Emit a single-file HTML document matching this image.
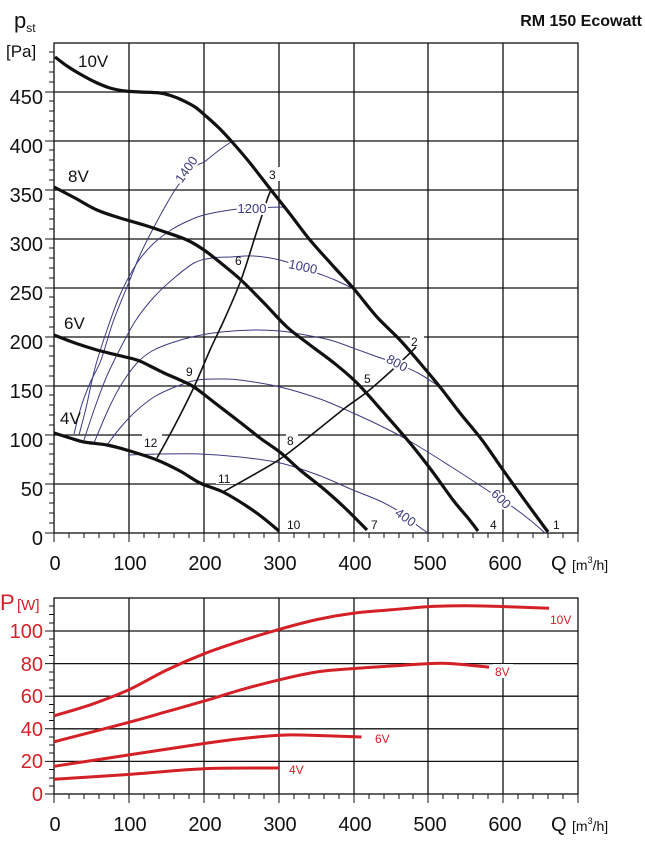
<!DOCTYPE html>
<html><head><meta charset="utf-8"><style>
html,body{margin:0;padding:0;background:#fff;}
svg{display:block;font-family:"Liberation Sans",sans-serif;}
</style></head><body>
<svg id="s" width="645" height="849" viewBox="0 0 645 849" xmlns="http://www.w3.org/2000/svg">
<!-- TOP CHART grid -->
<g stroke="#111" stroke-width="1.3" fill="none">
<rect x="54" y="43" width="524" height="490"/>
<path d="M129 43V533M204 43V533M279 43V533M354 43V533M428 43V533M503 43V533"/>
<path d="M54 92H578M54 141H578M54 190H578M54 239H578M54 288H578M54 337H578M54 386H578M54 435H578M54 484H578"/>
</g>
<g stroke="#111" stroke-width="1">
<path d="M49 52H54M49 62H54M49 72H54M49 82H54M49 101H54M49 111H54M49 121H54M49 131H54M49 150H54M49 160H54M49 170H54M49 180H54M49 199H54M49 209H54M49 219H54M49 229H54M49 248H54M49 258H54M49 268H54M49 278H54M49 297H54M49 307H54M49 317H54M49 327H54M49 346H54M49 356H54M49 366H54M49 376H54M49 395H54M49 405H54M49 415H54M49 425H54M49 444H54M49 454H54M49 464H54M49 474H54M49 493H54M49 503H54M49 513H54M49 523H54"/>
<path d="M45 92H54M45 141H54M45 190H54M45 239H54M45 288H54M45 337H54M45 386H54M45 435H54M45 484H54M45 533H54"/>
<path d="M54 533v9M129 533v9M204 533v9M279 533v9M354 533v9M428 533v9M503 533v9M578 533v9"/>
<path d="M69 533v5M84 533v5M99 533v5M114 533v5M144 533v5M159 533v5M174 533v5M189 533v5M219 533v5M234 533v5M249 533v5M264 533v5M294 533v5M309 533v5M324 533v5M339 533v5M369 533v5M384 533v5M399 533v5M413 533v5M443 533v5M458 533v5M473 533v5M488 533v5M518 533v5M533 533v5M548 533v5M563 533v5"/>
</g>
<!-- blue iso lines -->
<g stroke="#3a3a80" stroke-width="1" fill="none">
<polyline class="sm" points="74,434 81,407 90,383 101,360 113,322 127,287 140,255 154,227 166,205 177,187 192,168 204,162 218,151 231,142"/>
<polyline class="sm" points="79,435 86,408 95,368 107,330 120,295 137,263 153,244 171,230 188,221 204,215 230,210 252,208 284,207"/>
<polyline class="sm" points="84,440 94,410 106,378 121,347 136,320 154,297 173,279 194,263 212,258 231,257 254,256 280,260 301,267 317,273 335,280 354,289"/>
<polyline class="sm" points="94,443 108,410 121,385 137,363 152,351 171,343 196,336 221,332 254,330 280,331 300,334 330,340 353,348 375,356 395,363 418,373 440,387"/>
<polyline class="sm" points="107,445 120,428 135,412 154,397 175,387 197,380 221,379 240,380 280,387 320,399 353,413 385,428 413,443 450,466 487,490 510,505 530,520 545,533"/>
<polyline class="sm" points="128,455 160,454 200,454 240,457 280,463 318,475 353,490 380,501 403,514 418,526 428,533"/>
</g>
<!-- black operating lines -->
<g stroke="#111" stroke-width="1.6" fill="none">
<polyline class="sm" points="157,458 175,425 194,387 210,350 225,318 241,280 255,237 267,200 271,190"/>
<polyline class="sm" points="223,492 255,474 283,457 320,428 345,408 367,392 390,372 410,353 416,347"/>
</g>
<!-- fan curves -->
<g stroke="#111" stroke-width="3.2" fill="none" stroke-linejoin="round">
<polyline class="sm" points="55,57 67,66 80,74 95,82 110,88 125,91 140,92 160,93 172,96 182,100 195,107 207,117 220,129 233,143 250,163 271,190 290,214 310,240 334,267 354,289 377,317 400,340 420,363 440,387 460,413 482,440 503,470 526,502 548,532"/>
<polyline class="sm" points="54,187 75,198 97,210 120,218 144,225 165,232 187,240 204,250 222,264 241,280 264,303 287,327 310,345 334,363 357,383 384,413 410,443 432,471 453,500 468,518 478,531"/>
<polyline class="sm" points="54,335 75,343 97,350 117,355 137,360 150,366 164,373 180,380 194,387 215,403 241,423 260,438 281,453 300,470 325,490 345,508 367,530"/>
<polyline class="sm" points="54,433 70,438 84,442 107,445 130,451 157,460 180,471 200,483 223,492 245,505 262,517 279,531"/>
</g>
<!-- labels top -->
<g font-size="17" fill="#111">
<text x="78" y="67">10V</text>
<text x="68" y="182">8V</text>
<text x="64" y="329">6V</text>
<text x="60" y="424">4V</text>
</g>
<g font-size="12" fill="#111">
<rect x="266" y="167" width="14" height="14" fill="#fff"/><text x="269" y="179">3</text>
<rect x="410" y="331" width="14" height="14" fill="#fff"/><text x="411" y="346">2</text>
<text x="235" y="265">6</text>
<text x="186" y="376">9</text>
<rect x="362" y="369" width="12" height="14" fill="#fff"/><text x="364" y="383">5</text>
<rect x="142" y="433" width="20" height="15" fill="#fff"/><text x="144" y="447">12</text>
<rect x="286" y="431" width="12" height="14" fill="#fff"/><text x="287" y="445">8</text>
<rect x="216" y="469" width="20" height="15" fill="#fff"/><text x="218" y="483">11</text>
<text x="287" y="529">10</text>
<text x="371" y="529">7</text>
<text x="490" y="529">4</text>
<text x="553" y="529">1</text>
</g>
<g font-size="13" fill="#3a3a80">
<text transform="translate(190,172) rotate(-55)" text-anchor="middle" stroke="#fff" stroke-width="4" paint-order="stroke">1400</text>
<text x="252" y="213" text-anchor="middle" stroke="#fff" stroke-width="4" paint-order="stroke">1200</text>
<text transform="translate(302,271) rotate(12)" text-anchor="middle" stroke="#fff" stroke-width="4" paint-order="stroke">1000</text>
<text transform="translate(395,367) rotate(28)" text-anchor="middle" stroke="#fff" stroke-width="4" paint-order="stroke">800</text>
<text transform="translate(498,502) rotate(45)" text-anchor="middle" stroke="#fff" stroke-width="4" paint-order="stroke">600</text>
<text transform="translate(403,521) rotate(35)" text-anchor="middle" stroke="#fff" stroke-width="4" paint-order="stroke">400</text>
</g>
<!-- axis labels top -->
<g font-size="20" fill="#111" text-anchor="end">
<text x="43" y="104">450</text><text x="43" y="153">400</text><text x="43" y="202">350</text>
<text x="43" y="251">300</text><text x="43" y="300">250</text><text x="43" y="349">200</text>
<text x="43" y="398">150</text><text x="43" y="447">100</text><text x="43" y="496">50</text>
<text x="43" y="545">0</text>
</g>
<g font-size="20" fill="#111" text-anchor="middle">
<text x="55" y="570">0</text><text x="130" y="570">100</text><text x="205" y="570">200</text>
<text x="280" y="570">300</text><text x="355" y="570">400</text><text x="430" y="570">500</text>
<text x="505" y="570">600</text>
</g>
<text x="551" y="570" font-size="20" fill="#111">Q</text>
<text x="572" y="570" font-size="14" fill="#111">[m<tspan font-size="9" dy="-7">3</tspan><tspan dy="7">/h]</tspan></text>
<text x="14" y="28" font-size="22" fill="#111">p<tspan font-size="12" dy="4">st</tspan></text>
<text x="6" y="57" font-size="17" fill="#111">[Pa]</text>
<text x="642" y="26" font-size="16" font-weight="bold" fill="#111" text-anchor="end">RM 150 Ecowatt</text>

<!-- BOTTOM CHART -->
<g stroke="#111" stroke-width="1.3" fill="none">
<rect x="54" y="598" width="524" height="196"/>
<path d="M129 598V794M204 598V794M279 598V794M354 598V794M428 598V794M503 598V794"/>
<path d="M54 761.4H578M54 728.8H578M54 696.2H578M54 663.6H578M54 631H578"/>
</g>
<g stroke="#111" stroke-width="1">
<path d="M49 786H54M49 778H54M49 769.5H54M49 753H54M49 745H54M49 737H54M49 720.5H54M49 712.5H54M49 704.5H54M49 688H54M49 680H54M49 672H54M49 655.5H54M49 647H54M49 639H54M49 623H54M49 614.5H54M49 606H54"/>
<path d="M45 794H54M45 761.4H54M45 728.8H54M45 696.2H54M45 663.6H54M45 631H54"/>
<path d="M54 794v9M129 794v9M204 794v9M279 794v9M354 794v9M428 794v9M503 794v9M578 794v9"/>
<path d="M69 794v5M84 794v5M99 794v5M114 794v5M144 794v5M159 794v5M174 794v5M189 794v5M219 794v5M234 794v5M249 794v5M264 794v5M294 794v5M309 794v5M324 794v5M339 794v5M369 794v5M384 794v5M399 794v5M413 794v5M443 794v5M458 794v5M473 794v5M488 794v5M518 794v5M533 794v5M548 794v5M563 794v5"/>
</g>
<g stroke="#d42027" stroke-width="3" fill="none" stroke-linejoin="round">
<polyline class="sm" points="54,715.8 91.5,704.4 129,689.7 166.5,670.1 204,653.8 241.5,640.8 279,629.4 316.5,619.6 354,613.1 391.5,609.8 429,606.6 466.5,605.8 504,606.6 549,608.2"/>
<polyline class="sm" points="54,741.8 129,722.3 166.5,711.7 204,701.1 241.5,689.7 279,679.9 316.5,672 354,668.5 391.5,666 429,663.6 451.5,663.6 489,667.2"/>
<polyline class="sm" points="54,766.3 129,754.9 204,743.5 241.5,738.6 279,735.3 301.5,735 361.5,737"/>
<polyline class="sm" points="54,779.3 129,774.4 204,768.7 279,768"/>
</g>
<g font-size="12" fill="#d42027">
<rect x="548" y="612" width="28" height="14" fill="#fff"/><text x="550" y="624">10V</text>
<rect x="493" y="664" width="20" height="14" fill="#fff"/><text x="495" y="676">8V</text>
<rect x="373" y="732" width="20" height="14" fill="#fff"/><text x="375" y="743">6V</text>
<rect x="287" y="762" width="22" height="14" fill="#fff"/><text x="289" y="774">4V</text>
</g>
<g font-size="20" fill="#d42027" text-anchor="end">
<text x="43" y="638">100</text><text x="43" y="671">80</text><text x="43" y="703">60</text>
<text x="43" y="736">40</text><text x="43" y="768">20</text><text x="43" y="801">0</text>
</g>
<text x="0" y="610" font-size="22" fill="#d42027">P</text>
<text x="17" y="610" font-size="15" fill="#d42027">[W]</text>
<g font-size="20" fill="#111" text-anchor="middle">
<text x="55" y="831">0</text><text x="130" y="831">100</text><text x="205" y="831">200</text>
<text x="280" y="831">300</text><text x="355" y="831">400</text><text x="430" y="831">500</text>
<text x="505" y="831">600</text>
</g>
<text x="551" y="831" font-size="20" fill="#111">Q</text>
<text x="572" y="831" font-size="14" fill="#111">[m<tspan font-size="9" dy="-7">3</tspan><tspan dy="7">/h]</tspan></text>
</svg>
<script>
(function(){
var ns="http://www.w3.org/2000/svg";
var pls=document.querySelectorAll("polyline.sm");
for(var i=0;i<pls.length;i++){
 var pl=pls[i];
 var pts=pl.getAttribute("points").trim().split(/\s+/).map(function(s){var a=s.split(",");return [parseFloat(a[0]),parseFloat(a[1])];});
 var d="M"+pts[0][0]+" "+pts[0][1];
 for(var k=0;k<pts.length-1;k++){
  var p0=pts[k-1]||pts[k],p1=pts[k],p2=pts[k+1],p3=pts[k+2]||p2;
  var c1x=p1[0]+(p2[0]-p0[0])/6,c1y=p1[1]+(p2[1]-p0[1])/6;
  var c2x=p2[0]-(p3[0]-p1[0])/6,c2y=p2[1]-(p3[1]-p1[1])/6;
  d+=" C"+c1x.toFixed(2)+" "+c1y.toFixed(2)+" "+c2x.toFixed(2)+" "+c2y.toFixed(2)+" "+p2[0]+" "+p2[1];
 }
 var p=document.createElementNS(ns,"path");
 p.setAttribute("d",d);
 pl.parentNode.replaceChild(p,pl);
}
})();
</script>
</body></html>
